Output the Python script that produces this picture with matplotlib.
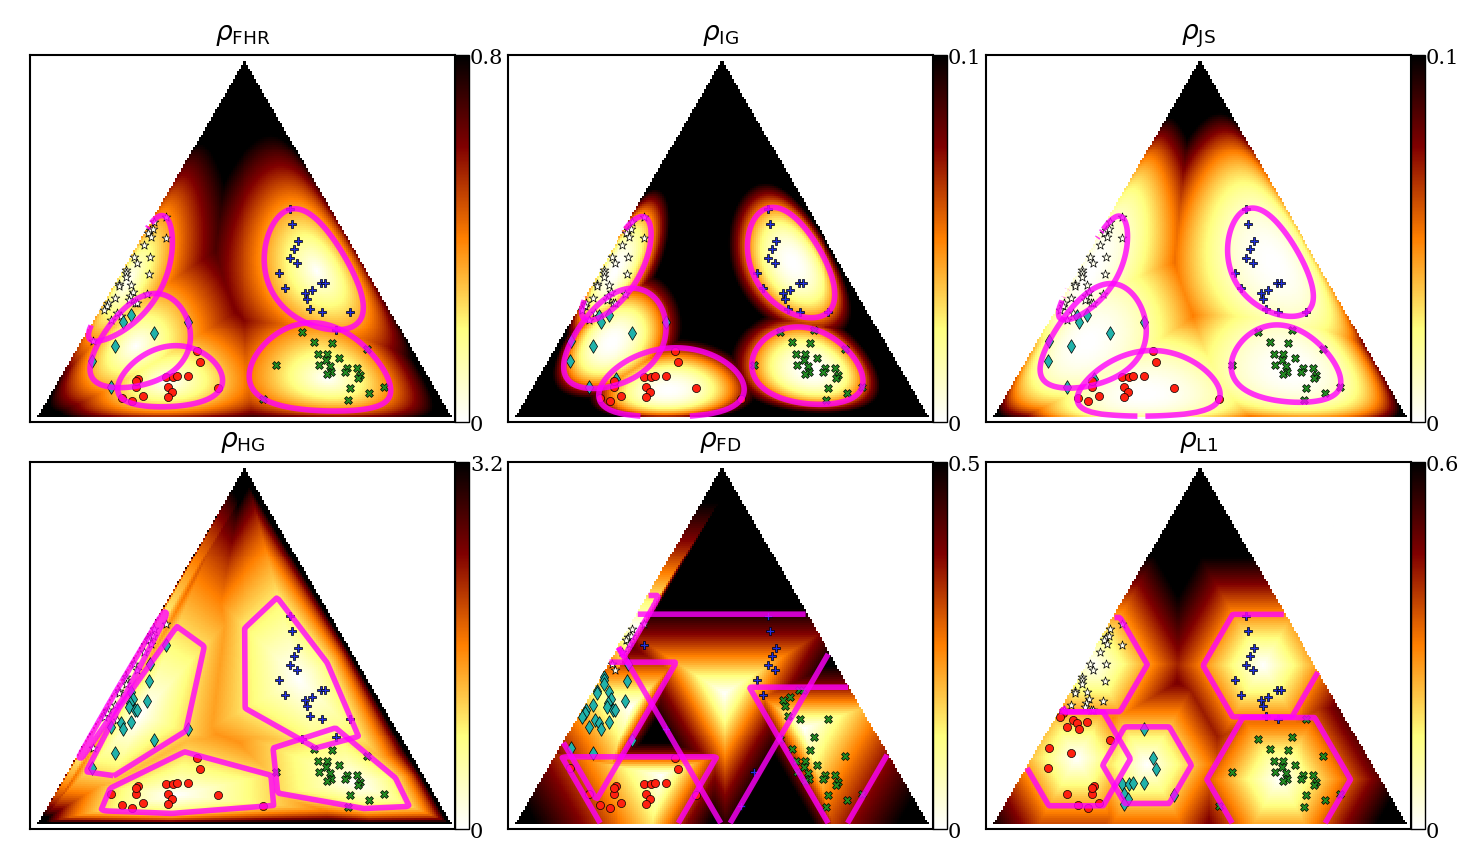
import numpy as np
import matplotlib
matplotlib.use("Agg")
import matplotlib.pyplot as plt
from matplotlib.transforms import ScaledTranslation

# point positions, read in units where the triangle base is 1242 and its height 1072
star_u = [387, 353, 339, 350, 334, 342, 387, 323, 292, 341, 302, 268, 267, 268, 336, 247,
          248, 284, 290, 279, 278, 332, 236, 214, 210, 201, 295, 302, 240, 252, 222, 170]
star_v = [601, 587, 562, 564, 554, 541, 539, 516, 480, 480, 462, 442, 432, 420, 429, 400,
          394, 398, 377, 364, 352, 371, 357, 344, 335, 322, 344, 344, 312, 305, 292, 229]
diam_u = [282, 260, 353, 236, 453, 167, 222]
diam_v = [307, 287, 252, 215, 285, 167, 90]
circ_u = [482, 491, 303, 388, 408, 420, 453, 298, 298, 395, 407, 393, 318, 255, 287, 543]
circ_v = [199, 165, 114, 120, 120, 122, 122, 90, 107, 90, 75, 60, 62, 57, 47, 87]
plus_u = [761, 765, 783, 772, 760, 780, 728, 746, 806, 827, 810, 852, 865, 821, 856, 940, 897]
plus_v = [624, 581, 530, 506, 477, 464, 434, 387, 372, 381, 356, 402, 403, 326, 315, 315, 262]
cross_u = [797, 833, 887, 990, 843, 872, 868, 908, 848, 718, 880, 883, 872, 930, 926, 962,
           970, 963, 940, 998, 1042, 935, 680]
cross_v = [255, 225, 222, 205, 189, 190, 170, 177, 155, 155, 152, 135, 129, 147, 134, 147,
           127, 117, 87, 72, 90, 50, 55]

# which points change cluster in each panel, relative to the grouping above
moves_ig = {"d": [29, 31, 41], "o": [94], "X": [71]}
moves_js = {"d": [29, 31, 41], "o": [94], "X": [71]}
moves_hg = {"d": [6, 9, 14, 17, 18, 19, 20, 21, 26, 27, 29, 30], "o": [38, 94], "P": [72]}
moves_fd = {"d": [9] + list(range(11, 32)), "P": [6, 36, 81, 94], "o": [37, 38],
            "X": list(range(63, 72))}
moves_l1 = {"o": [24, 25, 28, 29, 30, 31, 32, 33, 34, 35, 37, 38],
            "d": [39, 40, 42, 43, 44, 45, 48, 49, 50, 54], "X": [70, 71]}

centres_hg = [(244, 393), (309, 328), (417, 87), (784, 436), (955, 123)]
centres_fd = [(371, 585), (350, 351), (441, 147), (628, 392), (865, 288)]
centres_l1 = [(300, 479), (463, 177), (250, 196), (809, 476), (858, 134)]

# a corner of each HG ball, its radius is the distance from the centre to this point
rims_hg = [(374, 628), (421, 593), (444, 217), (727, 673), (709, 228)]
radii_fd = [0.16, 0.326, 0.318, 0.475, 0.356]
radii_l1 = [0.264, 0.2146, 0.263, 0.287, 0.347]

names = ["FHR", "IG", "JS", "HG", "FD", "L1"]
vmaxes = [0.8, 0.1, 0.1, 3.2, 0.5, 0.6]
tick_text = ["0.8", "0.1", "0.1", "3.2", "0.5", "0.6"]
frame_left = [30, 508, 986]
frame_top = [55, 462]

W, H = 1480, 863
FW, FH = 425, 366.5
CW = 13.5


def bary(x, y):
    return np.stack([y, x - y / 2, 1 - x - y / 2])


def to_xy(u, v):
    return np.asarray(u) / 1242.0, np.asarray(v) / 1072.0


def kl(a, b):
    return np.sum(a * np.log(a / b), axis=0)


def rho(name, p, c):
    if name == "FHR":
        return 2 * np.arccos(np.clip(np.sum(np.sqrt(p * c), axis=0), 0, 1))
    if name == "IG":
        return kl(p, c)
    if name == "JS":
        m = (p + c) / 2
        return 0.5 * kl(p, m) + 0.5 * kl(c, m)
    if name == "HG":
        return np.log(np.max(p / c, axis=0) / np.min(p / c, axis=0))
    if name == "FD":
        return np.log(np.max(p / c, axis=0))
    return np.sum(np.abs(p - c), axis=0)


all_u = np.array(star_u + diam_u + circ_u + plus_u + cross_u, dtype=float)
all_v = np.array(star_v + diam_v + circ_v + plus_v + cross_v, dtype=float)
base_labels = list("s" * len(star_u) + "d" * len(diam_u) + "o" * len(circ_u)
                   + "P" * len(plus_u) + "X" * len(cross_u))


def labels_for(moves):
    out = list(base_labels)
    for key, idx in moves.items():
        for i in idx:
            out[i] = key
    return np.array(out)


labels = [labels_for({}), labels_for(moves_ig), labels_for(moves_js),
          labels_for(moves_hg), labels_for(moves_fd), labels_for(moves_l1)]
centres = [None, None, None, centres_hg, centres_fd, centres_l1]
radii = [None, None, None, None, radii_fd, radii_l1]

keys = ["s", "d", "o", "P", "X"]
marker_style = {
    "s": dict(marker="*", c="#fffff0", s=44),
    "d": dict(marker="d", c="#20b2aa", s=48),
    "o": dict(marker="o", c="#ff2010", s=34),
    "P": dict(marker="P", c="#2030e0", s=32),
    "X": dict(marker="X", c="#228b22", s=32),
}

xg = (np.arange(208) + 0.5) / 208
yg = (np.arange(180) + 0.5) / 180
X, Y = np.meshgrid(xg, yg)
P = bary(X, Y)
inside = np.all(P > 0.001, axis=0)
P_safe = np.where(inside, P, 1 / 3)


def smallest_ball(name, members):
    # centre of the smallest ball that holds the cluster, searched on the grid
    cand = P[:, inside]
    worst = np.zeros(cand.shape[1])
    for q in members.T:
        worst = np.maximum(worst, rho(name, q[:, None], cand))
    n = np.argmin(worst)
    return cand[:, n], worst[n]


fig = plt.figure(figsize=(W / 100, H / 100), dpi=100)

for i, name in enumerate(names):
    left = frame_left[i % 3]
    top = frame_top[i // 3]
    ax = fig.add_axes([left / W, 1 - (top + FH) / H, FW / W, FH / H])
    cax = fig.add_axes([(left + FW) / W, 1 - (top + FH) / H, CW / W, FH / H])

    px, py = to_xy(all_u, all_v)
    pts = bary(px, py)

    dists = []
    levels = []
    for j, k in enumerate(keys):
        if centres[i] is None:
            c, r = smallest_ball(name, pts[:, labels[i] == k])
        else:
            c = bary(*to_xy(*centres[i][j]))
            if radii[i] is None:
                r = rho(name, bary(*to_xy(*rims_hg[j])), c)
            else:
                r = radii[i][j]
        dists.append(rho(name, P_safe, c[:, None, None]))
        levels.append(r)
    field = np.ma.array(np.min(dists, axis=0), mask=~inside)

    im = ax.imshow(field, origin="lower", extent=(0, 1, 0, 1), aspect="auto",
                   cmap="afmhot_r", vmin=0, vmax=vmaxes[i], interpolation="nearest")

    for k in keys:
        on = labels[i] == k
        ax.scatter(px[on], py[on], edgecolors="k", linewidths=0.5, zorder=3,
                   **marker_style[k])

    for j in range(5):
        ax.contour(X, Y, np.ma.array(dists[j], mask=~inside), levels=[levels[j]],
                   colors="magenta", linewidths=4.0, alpha=0.8, zorder=4)

    ax.set_xlim(-6.7 / 414, 1 + 4.3 / 414)
    ax.set_ylim(-4.4 / 357, 1 + 5.1 / 357)
    ax.set_xticks([])
    ax.set_yticks([])
    for sp in ax.spines.values():
        sp.set_linewidth(1.5)
    ax.set_title(r"$\rho_{\mathrm{" + name + "}}$", fontsize=19, pad=11)

    cb = fig.colorbar(im, cax=cax, ticks=[0, vmaxes[i]])
    cb.ax.set_yticklabels(["0", tick_text[i]], family="DejaVu Serif", fontsize=15)
    cb.ax.tick_params(length=0, pad=1)
    for lab in cb.ax.get_yticklabels():
        lab.set_transform(lab.get_transform() + ScaledTranslation(0, -1.5 / 100, fig.dpi_scale_trans))
    cb.outline.set_linewidth(1.0)

fig.savefig("out.png", dpi=100)
